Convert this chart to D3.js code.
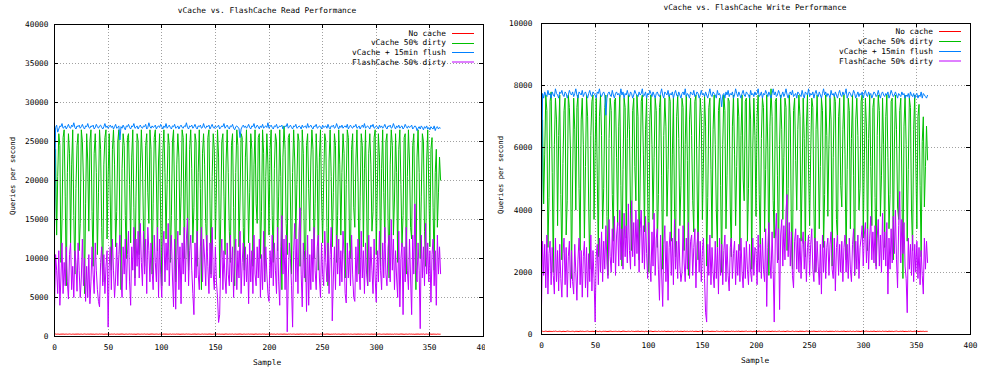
<!DOCTYPE html>
<html>
<head>
<meta charset="utf-8">
<script src="https://cdnjs.cloudflare.com/ajax/libs/d3/7.8.5/d3.min.js"></script>
<style>
body { margin: 0; background: #fff; }
svg text { font-family: "DejaVu Sans Mono", monospace; font-size: 7.8px; fill: #000; }
</style>
</head>
<body>
<div id="chart"></div>
<script>
const seriesNames = ["No cache", "vCache 50% dirty", "vCache + 15min flush", "FlashCache 50% dirty"];
const seriesColors = ["#ff0000", "#00c000", "#0080ff", "#c000ff"];

const xTicks = [0, 50, 100, 150, 200, 250, 300, 350, 400];
const readYTicks = [0, 5000, 10000, 15000, 20000, 25000, 30000, 35000, 40000];
const writeYTicks = [0, 2000, 4000, 6000, 8000, 10000];

// ---- read performance (queries per second, one value per sample) ----
const readNoCache = [
300,320,290,310,300,280,310,300,320,290,
300,310,290,300,320,300,280,310,300,290,
310,300,320,290,300,310,280,300,320,300,
290,310,300,300,320,290,310,280,300,310,
300,290,320,300,310,300,280,300,310,290,
320,300,290,310,300,300,320,280,300,310,
290,300,310,320,300,280,300,310,290,300,
320,300,310,290,300,300,280,310,320,300,
290,310,300,300,320,290,300,310,280,300,
310,320,300,290,300,310,300,280,310,300,
300,290,320,300,310,300,290,300,320,280,
310,300,300,290,320,300,310,280,300,300,
310,290,300,320,300,310,300,290,280,310,
300,320,290,300,310,300,280,300,320,290,
310,300,300,290,320,310,300,280,300,310,
290,300,320,300,310,290,300,300,280,310,
320,300,290,310,300,300,320,280,300,310,
290,300,310,320,300,280,300,310,290,300,
300,320,290,310,300,300,280,310,320,290,
300,310,300,290,320,300,310,280,300,300,
310,290,320,300,300,310,280,300,320,290,
300,310,300,290,320,300,300,280,310,300,
320,290,300,310,300,280,310,300,290,320,
300,310,290,300,320,300,280,310,300,300,
290,320,300,310,300,290,300,280,320,300,
310,300,290,300,320,310,300,280,300,290,
310,300,320,290,300,310,300,280,300,320,
290,310,300,300,320,290,310,300,280,300,
310,300,290,320,300,300,310,280,300,290,
320,300,310,300,290,300,320,280,310,300,
300,290,310,320,300,280,300,310,300,290,
320,300,300,310,290,300,280,320,300,310,
300,290,300,320,310,300,280,300,310,290,
300,320,300,310,290,300,280,310,300,320,
290,300,310,300,320,280,300,310,290,300,
320,300,290,310,300,300,280,310,300,290,
300];

const readVCache = [
14000,24000,13000,20500,26000,24500,9500,15000,25500,26500,
18000,6500,21000,26000,23500,12000,22000,26500,15500,8000,
19000,24500,26000,11000,14500,26500,25000,20000,5500,17000,
26000,22500,13500,25000,26500,16000,9000,23500,26000,21000,
10500,18500,26500,24000,14000,7000,22000,25500,26500,12500,
20500,26000,17500,8500,24000,26500,22000,11500,16000,25000,
26500,13000,6000,21500,26000,24500,15500,10000,25500,26000,
19500,12000,23000,26500,16500,7500,18000,26000,25000,10500,
21500,26500,22500,13500,9000,24500,26000,18500,14500,26500,
24000,8000,17000,25500,26500,20000,11000,22500,26000,15000,
6500,23500,26500,21000,12500,19500,26000,24500,9500,15500,
25000,26500,17500,7000,22000,26000,23000,13000,18000,26500,
25500,10000,20000,26000,14000,8500,24000,26500,21500,12000,
16500,26000,25000,9000,21000,26500,19000,6000,23500,26000,
22000,14500,11000,25500,26500,17000,8000,20500,26000,24000,
12500,19000,26500,23000,7500,15000,25000,26000,18000,10500,
22500,26500,21000,13500,9500,24500,26000,16500,6500,21000,
26500,24500,11500,17500,26000,25500,14000,8500,23000,26500,
20000,12000,18500,26000,24000,9000,22000,26500,17000,14500,
25500,26000,10000,16000,26500,23500,7000,20500,26000,22000,
13000,24000,26500,15500,9500,21500,26000,25000,11000,18000,
26500,20500,6000,23000,27000,24000,14500,10500,25500,26000,
17500,8000,21000,26500,22500,12500,19500,26000,25000,9000,
16000,26500,23500,11000,7000,24500,26000,19000,13500,22500,
26500,24000,10000,17000,26000,21500,8500,23000,26500,18000,
12000,20000,26000,25000,14000,6500,22500,26500,20500,11500,
18500,26000,24500,9500,15500,26500,22000,13000,21000,26000,
23500,7500,19500,26500,25500,12500,10000,24000,26000,16500,
14000,22500,26500,20000,8000,18000,26000,24500,11500,21500,
26500,17500,6500,23500,26000,22000,13500,16000,25500,26500,
10500,19000,26000,23000,9000,21500,26500,18500,12000,25000,
26000,15000,7500,22000,26500,24500,13000,17500,26000,21000,
9500,24000,26500,19500,11500,15500,25500,26000,8000,20500,
26500,22500,14000,12500,24500,26000,17000,6000,23000,26500,
21000,10000,18000,26000,25000,13500,9000,22500,26500,19000,
11500,24000,25500,16500,8500,21000,24000,14000,18500,23000,
20000];

const readFlush = [
13500,26800,27100,26200,26600,27000,26900,27300,26700,26800,
27000,26600,26900,27200,26800,26700,27100,26900,27400,26800,
26600,27000,26900,27100,26700,26900,27200,26800,26600,27000,
26900,27300,26800,26700,27000,26900,27100,26600,26800,27200,
26900,26700,27000,27100,26800,26600,26900,27300,26800,27000,
26700,26900,27100,26800,27000,26600,26900,27200,26700,26800,
27000,25200,26900,26700,27100,26800,26500,27000,26900,27200,
26800,26600,27000,26900,27300,26700,26800,27000,26600,26900,
27100,26800,26700,27000,26900,27200,26600,26800,27400,26900,
26700,27000,26800,26900,27100,26600,26900,27000,26800,27200,
26900,26600,27000,26800,27300,26700,26900,27100,26800,26600,
27000,26900,27200,26700,26800,27000,26600,26900,27100,26800,
26700,27000,26900,27400,26800,26600,27000,26900,27100,26700,
26900,27200,26800,26600,27000,26900,27100,26700,26800,27300,
26800,26700,27000,26900,27100,26600,26900,27200,26800,26700,
27000,26800,26900,27100,26600,26800,27000,26900,27300,26700,
26900,27100,26800,26600,27000,26900,27200,26700,26500,26900,
27000,26800,26700,25500,26600,26900,27100,26800,27000,26700,
26900,27200,26800,26600,27000,26900,27300,26700,26800,27100,
26900,26600,27000,26800,27200,26700,26900,27000,26800,27400,
26700,26900,27100,26800,26600,27000,26900,27200,26700,26800,
27000,26900,27100,26600,26800,27000,26900,27300,26700,26900,
27100,26800,26600,27000,26900,27200,26700,26800,27000,26900,
26600,27100,26800,26900,27000,26700,27300,26800,26900,27100,
26800,26600,27000,26900,27200,26700,26800,27000,26900,26600,
27100,26800,26900,27000,26700,27200,26800,26600,27000,26900,
27100,26700,26800,27300,26900,26600,27000,26800,27100,26700,
26900,27000,26800,27200,26600,26900,27100,26800,26700,27000,
26900,27200,26700,26800,27000,26600,26900,27100,26800,27300,
26700,26900,27000,26800,26600,27100,26900,27200,26700,26800,
27000,26900,26600,27100,26800,27000,26700,26900,27200,26800,
26600,27000,26900,27100,26700,26800,27300,26900,26600,27000,
26800,27100,26700,26900,27000,26600,26800,27200,26900,26700,
27000,26800,26900,27100,26600,26800,27000,26900,26400,26700,
26900,26600,27000,26800,26500,26900,26700,27000,26600,26800,
26500,26900,26700,26600,27000,26400,26800,26900,26600,26800,
26700];

const readFlashCache = [
3500,10500,8500,5500,11000,4000,7500,12000,5500,9500,
6500,11500,7000,4800,10500,12000,6000,9000,5000,11000,
9500,5800,12000,8500,5000,7500,12500,6500,10000,4500,
9000,5000,10500,4200,7000,11500,8000,5500,12000,8500,
6000,4500,3800,9500,11500,6500,10500,5500,9000,11000,
1200,9000,11500,6000,12500,8500,5000,7500,12000,6500,
10500,13000,7500,5000,11500,8000,12500,6000,10500,13500,
7000,4000,11500,8500,14000,6500,12500,9000,13500,7500,
14500,9500,6500,13500,8000,12500,5500,14000,11000,7000,
12000,8500,6000,13000,9500,7000,14000,5000,12500,8000,
5000,11500,13500,7000,12000,8500,14500,6500,11000,13000,
7500,3800,12500,3500,10000,13500,6000,11500,4200,12000,
8000,14000,7000,12500,15200,6500,11000,13000,8500,5500,
2800,12000,7500,13500,8000,6000,11500,14000,7000,12500,
10000,6500,13000,9000,5500,12000,7500,14000,8000,6000,
11500,7000,5000,1800,2800,10000,12500,6000,11000,7500,
5500,12000,8000,6500,13000,7000,11500,5000,10500,12500,
6000,11000,7500,13500,5500,9500,12000,6500,11500,7000,
10500,4200,12000,7000,11000,5500,13000,8000,6500,11500,
7500,12500,5000,10500,6000,13500,7000,11500,8000,5500,
4500,11000,7500,13000,6500,12000,8500,5500,14000,7000,
4000,11500,15500,8000,12500,6000,13000,600,7500,12000,
10000,6500,1200,11000,14500,7000,12500,5500,13500,16500,
8000,3800,12000,7500,11000,3200,13000,4000,10500,6000,
12500,7000,14000,8500,6000,11500,13000,7500,5000,12000,
8000,6500,13500,9500,7000,12000,5500,10500,14000,2000,
7500,11500,6000,13000,8000,12500,6500,11000,7000,13500,
10500,5500,4300,12000,7500,11000,6500,13000,8000,5000,
4500,11500,7000,12500,8500,6000,13500,7500,11000,5500,
12000,8000,6500,13000,7000,11500,8500,5500,12500,7500,
4400,11000,7000,13500,8500,6000,12000,7500,14000,8000,
6500,11500,13000,7000,15000,8500,12500,6000,11000,7500,
5000,13500,3800,10000,12000,2800,11500,7000,14000,8500,
6000,12500,7500,2800,13000,8000,17000,9000,7000,12000,
8500,1000,13000,7500,11500,6500,14500,8000,12000,7000,
11000,4400,10500,12500,6500,11000,4000,13000,8000,11500,
8000];

// ---- write performance ----
const writeNoCache = [
100,105,95,100,110,100,95,105,100,100,
95,105,100,110,100,95,100,105,100,90,
105,100,95,100,110,105,100,95,100,105,
100,90,105,100,100,95,110,100,105,100,
95,100,105,110,100,95,100,100,105,95,
100,110,100,95,105,100,90,100,105,100,
105,95,100,100,110,105,95,100,100,105,
100,95,105,100,90,100,110,105,100,95,
100,105,100,95,110,100,100,95,105,100,
110,100,95,105,100,100,90,105,100,95,
100,105,110,100,95,100,105,100,95,110,
100,95,105,100,100,110,95,100,105,100,
95,100,105,90,100,105,100,110,95,100,
105,100,95,110,100,100,105,95,100,105,
100,110,95,100,105,100,95,100,110,100,
105,95,100,100,105,110,100,95,100,105,
100,100,95,110,105,100,95,100,105,100,
110,95,100,105,100,100,95,110,100,105,
95,100,105,100,110,95,100,105,100,100,
105,110,95,100,100,105,100,90,105,100,
100,95,105,110,100,100,95,105,100,110,
95,100,105,100,95,110,100,100,105,95,
100,105,110,95,100,100,105,95,100,110,
105,100,95,100,110,100,95,105,100,100,
95,110,100,105,100,95,100,110,105,100,
100,95,105,100,110,100,100,95,105,100,
110,100,95,105,100,100,110,95,100,105,
100,105,100,95,110,100,105,100,95,100,
105,100,110,100,95,105,100,100,110,95,
100,105,95,100,110,100,105,95,100,110,
100,95,105,110,100,100,95,105,100,100,
110,100,95,105,100,105,100,95,110,100,
100,105,100,95,110,100,100,105,95,100,
105,110,100,95,100,105,100,110,95,100,
100,95,105,100,110,100,95,100,105,100,
110,100,95,105,100,100,105,95,100,100,
100];

const writeVCache = [
3700,6900,4200,5800,7700,7200,2800,4400,7500,7800,
5200,2000,6100,7600,6900,3500,6400,7700,4500,2400,
5500,7200,7600,3200,4300,7700,7300,5900,1800,5000,
7600,6600,4000,7300,7700,4700,2700,6900,7600,6100,
3100,5400,7700,7000,4100,2100,6400,7500,7700,3700,
6000,7600,5100,2500,7000,7700,6400,3400,4700,7300,
7700,3800,1900,6300,7600,7200,4500,3000,7500,7600,
5700,3500,6700,7700,4800,2200,5300,7600,7300,3100,
6300,7700,6600,4000,2700,7200,7600,5400,4300,7700,
7000,2400,5000,7500,7700,5800,3300,6600,7600,4400,
2000,6900,7700,6100,3700,5700,7600,7200,2800,4500,
7300,7700,5100,2100,6400,7600,6700,3800,5300,7700,
7500,3000,5800,7600,4100,2500,7000,7700,6300,3500,
4800,7600,7300,2700,6100,7700,5600,1900,6900,7600,
6400,4300,3300,7500,7700,5000,2400,6000,7600,7000,
3700,5500,7700,6700,2200,4400,7300,7600,5300,3100,
6600,7700,6100,4000,2800,7200,7600,4800,2000,6100,
7700,7200,3400,5100,7600,7500,4100,2500,6700,7700,
5800,3500,5400,7600,7000,2700,6400,7700,5000,4300,
7500,7600,3000,4700,7700,6900,2100,6000,7600,6400,
3800,7000,7700,4500,2800,6300,7600,7300,3300,5300,
7700,6000,1900,6700,7900,7000,4300,3100,7500,7600,
5100,2400,6100,7700,6600,3700,5700,7600,7300,2700,
4700,7700,6900,3300,2100,7200,7600,5600,4000,6600,
7700,7000,3000,5000,7600,6300,2500,6700,7700,5300,
3500,5800,7600,7300,4100,2000,6600,7700,6000,3400,
5400,7600,7200,2800,4500,7700,6400,3800,6100,7600,
6900,2200,5700,7700,7500,3700,3000,7000,7600,4800,
4100,6600,7700,5800,2400,5300,7600,7200,3400,6300,
7700,5100,1900,6900,7600,6400,4000,4700,7500,7700,
3100,5600,7600,6700,2700,6300,7700,5400,3500,7300,
7600,4400,2200,6400,7700,7200,3800,5100,7600,6100,
2800,7000,7700,5700,3400,4500,7500,7600,2400,6000,
7700,6600,4100,3700,7200,7600,5000,1800,6700,7700,
6100,3000,5300,7600,7300,4000,2700,6600,7700,5500,
3400,7000,7400,4800,2500,6200,7000,4100,5400,6700,
5600];

const writeFlush = [
3700,7750,7600,7800,7700,7650,7850,7700,7750,7600,
7800,7700,7650,7900,7750,7700,7600,7800,7750,7850,
7700,7650,7800,7750,7600,7700,7850,7750,7700,7800,
7650,7750,7900,7700,7600,7800,7750,7700,7850,7650,
7750,7800,7700,7600,7750,7850,7700,7650,7800,7750,
7700,7600,7800,7750,7900,7700,7650,7750,7800,7700,
7050,7600,7750,7800,7700,7650,7850,7700,7600,7750,
7800,7700,7750,7650,7900,7700,7800,7600,7750,7700,
7850,7700,7650,7800,7750,7600,7700,7850,7750,7700,
7650,7800,7700,7750,7900,7650,7700,7800,7600,7750,
7700,7850,7750,7650,7800,7700,7600,7750,7800,7700,
7650,7750,7900,7700,7600,7800,7750,7700,7850,7650,
7750,7700,7800,7600,7750,7850,7700,7650,7800,7700,
7600,7750,7800,7700,7900,7650,7750,7700,7600,7800,
7750,7700,7850,7650,7700,7800,7750,7600,7700,7850,
7700,7750,7650,7800,7700,7600,7750,7900,7700,7650,
7800,7750,7700,7600,7850,7700,7750,7650,7320,7700,
7750,7600,7800,7700,7850,7650,7750,7700,7800,7600,
7700,7900,7750,7650,7800,7700,7600,7750,7850,7700,
7650,7800,7750,7700,7600,7850,7700,7750,7650,7800,
7700,7750,7900,7650,7700,7800,7600,7750,7700,7850,
7750,7650,7800,7700,7600,7750,7900,7700,7800,7650,
7700,7850,7750,7600,7700,7800,7650,7750,7900,7700,
7600,7750,7800,7700,7850,7650,7700,7750,7600,7800,
7750,7700,7650,7850,7700,7600,7800,7750,7700,7900,
7650,7750,7700,7800,7600,7750,7850,7700,7650,7800,
7700,7600,7750,7900,7700,7800,7650,7750,7700,7600,
7850,7700,7750,7650,7800,7700,7600,7750,7850,7700,
7650,7800,7700,7750,7900,7600,7700,7800,7750,7650,
7700,7850,7750,7600,7700,7800,7650,7750,7700,7800,
7600,7750,7850,7700,7650,7800,7700,7750,7600,7700,
7800,7750,7650,7700,7850,7700,7600,7750,7800,7700,
7650,7750,7700,7800,7600,7700,7850,7750,7650,7700,
7800,7700,7600,7750,7700,7650,7800,7700,7750,7600,
7700,7650,7750,7600,7800,7700,7650,7750,7600,7700,
7750,7600,7700,7650,7800,7600,7750,7700,7650,7600,
7700];

const writeFlashCache = [
900,3000,1900,2900,1500,3200,1300,2600,3000,1600,
2800,1900,1300,3100,1700,2700,1400,2900,1800,1200,
2600,3100,1600,2800,1200,2500,3000,1500,2700,1700,
1300,2900,2000,1100,2400,3100,1600,2700,1200,2500,
3000,1500,2800,1200,2600,1700,3200,1400,2700,1800,
400,2500,2900,1600,3100,2000,3300,1700,3000,2100,
3500,2300,1800,3700,2500,2000,3400,2300,3800,1900,
3200,3600,2200,4000,2400,3400,2100,3900,2500,3500,
2300,4200,2700,2100,4300,2500,3600,2200,4000,2600,
3700,2000,3400,4000,2300,3500,2100,3800,2600,1800,
3600,2400,1700,3300,2200,3900,1900,3100,3400,2100,
1100,3200,2000,900,2900,3500,1700,3000,1100,2800,
3300,1900,3100,1600,3700,2100,3000,1800,3400,2200,
1700,2000,3500,2300,1700,3100,2100,3600,1800,3000,
3200,1900,2800,3400,1500,2900,3300,2000,3000,1700,
2700,3100,1800,700,400,2900,1900,3200,1600,2800,
2000,1500,3000,1800,2800,1300,3100,1900,2900,1600,
2700,3200,1700,2900,1900,1400,2800,3100,1800,2600,
3000,1600,2700,1900,2900,1700,3100,2000,1500,2800,
1800,3000,2100,1600,2900,2000,1700,3100,1900,2800,
2700,1600,3200,2000,2900,1800,3100,2100,1700,3400,
900,2800,3600,2400,1800,3300,2100,400,3100,3900,
2300,3400,800,3200,3700,2200,3500,2400,4000,4500,
2500,3600,2200,3300,1900,1500,3000,3400,2100,3200,
2000,3100,1800,2900,3300,2100,3000,1700,2800,3200,
1900,2900,3400,2100,1700,3100,2000,3000,2200,1600,
2900,1300,3200,2000,3000,1800,2800,3100,1900,2900,
3300,2100,1800,3100,1400,2800,3200,1900,2900,2000,
3000,1700,2800,3200,2000,2900,1800,3100,2100,1700,
2900,3400,1900,3000,2100,3200,1800,2800,3100,3500,
2200,3200,3600,2300,3400,2100,3100,3800,2400,3300,
2300,3500,2100,3100,3700,2200,3200,2000,3900,2400,
3300,2200,3600,1300,3100,2100,3400,2300,3800,2600,
4000,2400,1500,3500,4600,2300,3700,2600,3600,2200,
1800,700,3100,2100,2900,1900,3200,1700,2900,2000,
3000,1800,2800,1600,2700,1900,1300,3100,2100,3000,
2300];

const width = 1000;
const height = 375;

const svg = d3.select("#chart")
    .append("svg")
    .attr("width", width)
    .attr("height", height);

// the left picture is cut off a little past its right border
svg.append("clipPath")
    .attr("id", "clipLeft")
    .append("rect")
    .attr("x", 0).attr("y", 0)
    .attr("width", 485).attr("height", height);

function drawChart(c) {
    const g = svg.append("g");
    if (c.clip) g.attr("clip-path", "url(#" + c.clip + ")");

    // data scales (not rounded), axis scales (rounded to whole pixels)
    const x = d3.scaleLinear().domain([0, 400]).range([c.left + 0.5, c.right + 0.5]);
    const y = d3.scaleLinear().domain([0, c.yMax]).range([c.bottom + 0.5, c.top + 0.5]);
    const xa = d3.scaleLinear().domain([0, 400]).rangeRound([c.left, c.right]);
    const ya = d3.scaleLinear().domain([0, c.yMax]).rangeRound([c.bottom, c.top]);

    const plotW = c.right - c.left;
    const plotH = c.bottom - c.top;

    // dotted grid
    g.append("g")
        .attr("transform", "translate(0," + c.bottom + ")")
        .call(d3.axisBottom(xa).tickValues(xTicks.slice(1, -1)).tickSize(-plotH).tickFormat(""))
        .call(a => a.select(".domain").remove())
        .selectAll("line")
        .attr("stroke", "#a0a0a0")
        .attr("stroke-dasharray", "1,2");

    g.append("g")
        .attr("transform", "translate(" + c.left + ",0)")
        .call(d3.axisLeft(ya).tickValues(c.yTicks.slice(1, -1)).tickSize(-plotW).tickFormat(""))
        .call(a => a.select(".domain").remove())
        .selectAll("line")
        .attr("stroke", "#a0a0a0")
        .attr("stroke-dasharray", "1,2");

    // the lines
    const line = d3.line()
        .x((d, i) => x(i))
        .y(d => y(d));

    c.series.forEach((s, k) => {
        g.append("path")
            .datum(s)
            .attr("fill", "none")
            .attr("stroke", seriesColors[k])
            .attr("stroke-width", 1)
            .attr("d", line);
    });

    // border
    g.append("rect")
        .attr("x", c.left + 0.5)
        .attr("y", c.top + 0.5)
        .attr("width", plotW)
        .attr("height", plotH)
        .attr("fill", "none")
        .attr("stroke", "#000");

    // ticks on all four sides, pointing in
    const tick = 4;
    const bottomAxis = g.append("g")
        .attr("transform", "translate(0," + c.bottom + ")")
        .call(d3.axisBottom(xa).tickValues(xTicks).tickSizeInner(-tick).tickSizeOuter(0).tickPadding(c.xPad));
    g.append("g")
        .attr("transform", "translate(0," + c.top + ")")
        .call(d3.axisTop(xa).tickValues(xTicks).tickSizeInner(-tick).tickSizeOuter(0).tickFormat(""));
    const leftAxis = g.append("g")
        .attr("transform", "translate(" + c.left + ",0)")
        .call(d3.axisLeft(ya).tickValues(c.yTicks).tickSizeInner(-tick).tickSizeOuter(0).tickPadding(c.yPad));
    g.append("g")
        .attr("transform", "translate(" + c.right + ",0)")
        .call(d3.axisRight(ya).tickValues(c.yTicks).tickSizeInner(-tick).tickSizeOuter(0).tickFormat(""));

    g.selectAll(".domain").remove();
    g.selectAll(".tick line").filter(function () {
        return d3.select(this).attr("stroke-dasharray") === null;
    }).attr("stroke", "#000");

    [bottomAxis, leftAxis].forEach(a => {
        a.attr("font-family", null).attr("font-size", null);
        a.selectAll("text").attr("fill", "#000");
    });
    leftAxis.selectAll("text").text(d => d);

    // title and axis names
    g.append("text")
        .attr("x", c.titleX)
        .attr("y", c.titleY)
        .attr("dy", "0.35em")
        .attr("text-anchor", "middle")
        .text(c.title);

    g.append("text")
        .attr("x", c.titleX)
        .attr("y", c.xLabelY)
        .attr("dy", "0.35em")
        .attr("text-anchor", "middle")
        .text("Sample");

    g.append("text")
        .attr("transform", "translate(" + c.yLabelX + "," + c.yLabelY + ") rotate(-90)")
        .attr("dy", "0.35em")
        .attr("text-anchor", "middle")
        .style("font-size", "7.2px")
        .text("Queries per second");

    // legend, top right
    const legend = g.append("g");
    seriesNames.forEach((name, k) => {
        const ly = c.legendY + k * c.legendStep;
        legend.append("text")
            .attr("x", c.legendTextX)
            .attr("y", ly)
            .attr("dy", "0.35em")
            .attr("text-anchor", "end")
            .text(name);
        const lineY = k == 3 ? Math.round(ly) : Math.round(ly) + 0.5;
        legend.append("line")
            .attr("x1", c.legendLineX)
            .attr("x2", c.legendLineX + 22)
            .attr("y1", lineY)
            .attr("y2", lineY)
            .style("stroke", seriesColors[k])
            .style("stroke-width", 1);
    });
}

drawChart({
    title: "vCache vs. FlashCache Read Performance",
    series: [readNoCache, readVCache, readFlush, readFlashCache],
    yMax: 40000,
    yTicks: readYTicks,
    left: 54, right: 483, top: 24, bottom: 336,
    clip: "clipLeft",
    xPad: 8, yPad: 5.5,
    titleX: 267, titleY: 10, xLabelY: 362,
    yLabelX: 12, yLabelY: 176,
    legendY: 33, legendStep: 9.7, legendTextX: 446, legendLineX: 452
});

drawChart({
    title: "vCache vs. FlashCache Write Performance",
    series: [writeNoCache, writeVCache, writeFlush, writeFlashCache],
    yMax: 10000,
    yTicks: writeYTicks,
    left: 541, right: 970, top: 23, bottom: 334,
    clip: null,
    xPad: 8, yPad: 8.5,
    titleX: 755, titleY: 7.5, xLabelY: 360.5,
    yLabelX: 500, yLabelY: 175,
    legendY: 31, legendStep: 10, legendTextX: 933, legendLineX: 939
});
</script>
</body>
</html>
